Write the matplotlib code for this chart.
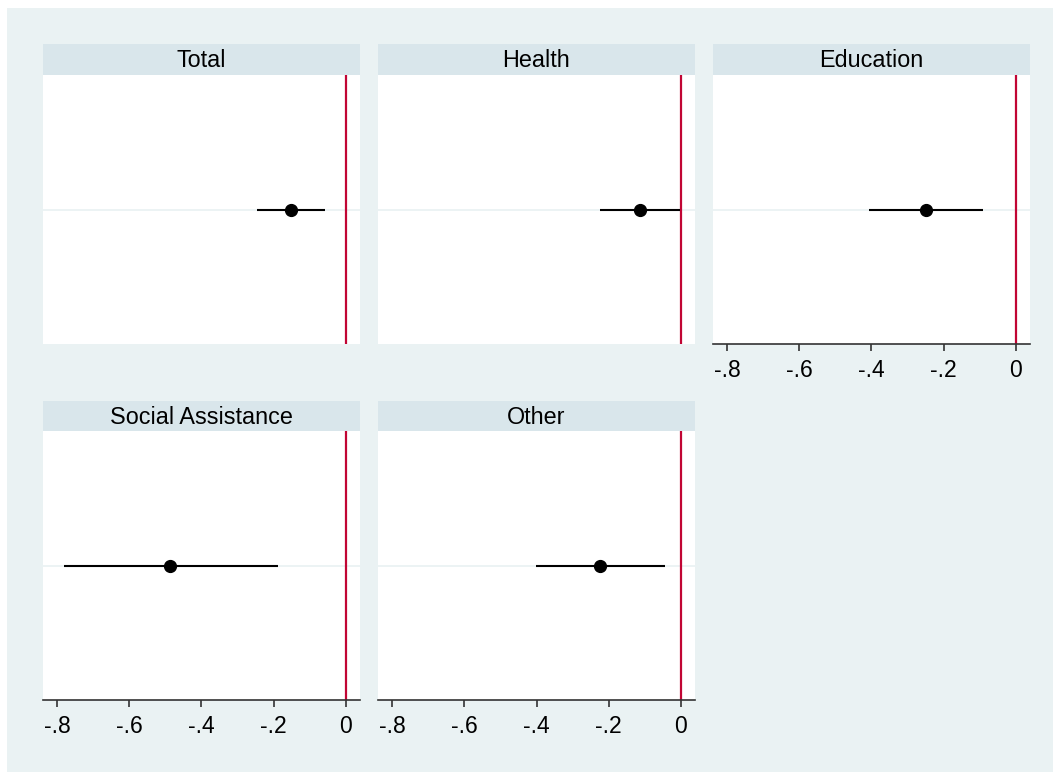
import matplotlib
matplotlib.use('Agg')
import matplotlib.pyplot as plt
from matplotlib.patches import Rectangle

plt.rcParams['font.family'] = ['Liberation Sans', 'DejaVu Sans']

# coefficient estimates with 95% CI
categories = ['Total', 'Health', 'Education', 'Social Assistance', 'Other']
coef = [-0.153, -0.114, -0.249, -0.486, -0.224]
ci_lo = [-0.247, -0.224, -0.407, -0.782, -0.402]
ci_hi = [-0.058, -0.003, -0.091, -0.189, -0.045]
xticks = [-0.8, -0.6, -0.4, -0.2, 0]
xtick_labels = ['-.8', '-.6', '-.4', '-.2', '0']

W, H = 1053, 772
BG = '#EAF2F3'
HEAD = '#D9E6EB'
RED = '#C10534'
AXC = '#333333'


def box(x0, y0, x1, y1):
    return [x0 / W, 1 - y1 / H, (x1 - x0) / W, (y1 - y0) / H]


fig = plt.figure(figsize=(W / 100, H / 100), dpi=100)
fig.patch.set_facecolor(BG)
# thin white margin on the left and top, like the original export
fig.patches.append(Rectangle((0, 0), 7 / W, 1, transform=fig.transFigure,
                             facecolor='white', edgecolor='none', zorder=-1))
fig.patches.append(Rectangle((0, 1 - 8 / H), 1, 8 / H, transform=fig.transFigure,
                             facecolor='white', edgecolor='none', zorder=-1))

cols = [(43, 360), (378, 695), (713, 1030)]
rows = [(44, 75, 344), (401, 431, 700)]
# which panels show the x axis (bottom of each column)
slots = [(0, 0, False), (0, 1, False), (0, 2, True), (1, 0, True), (1, 1, True)]

for i, name in enumerate(categories):
    r, c, show_x = slots[i]
    x0, x1 = cols[c]
    htop, ptop, pbot = rows[r]

    # header strip
    hax = fig.add_axes(box(x0, htop, x1, ptop))
    hax.set_facecolor(HEAD)
    hax.set_xticks([])
    hax.set_yticks([])
    for s in hax.spines.values():
        s.set_visible(False)
    hax.text(0.5, 0.46, name, ha='center', va='center', fontsize=16.8,
             color='black', transform=hax.transAxes)

    ax = fig.add_axes(box(x0, ptop, x1, pbot))
    ax.set_facecolor('white')
    ax.set_xlim(-0.839, 0.039)
    ax.set_ylim(0, 2)
    ax.axhline(1, color=BG, lw=1.3, zorder=1)
    ax.axvline(0, color=RED, lw=1.6, zorder=2)
    ax.hlines(1, ci_lo[i], ci_hi[i], color='black', lw=1.5, zorder=3)
    ax.plot([coef[i]], [1], 'o', color='black', ms=8.5, zorder=4)

    ax.set_yticks([])
    for s in ['top', 'left', 'right']:
        ax.spines[s].set_visible(False)
    if show_x:
        ax.spines['bottom'].set_color(AXC)
        ax.spines['bottom'].set_linewidth(1.2)
        ax.set_xticks(xticks)
        ax.set_xticklabels(xtick_labels)
        ax.tick_params(axis='x', direction='out', length=5, width=1.2,
                       color=AXC, labelsize=16.5, pad=6, labelcolor='black')
    else:
        ax.spines['bottom'].set_visible(False)
        ax.set_xticks([])

fig.savefig('out.png', dpi=100, facecolor=fig.get_facecolor())
